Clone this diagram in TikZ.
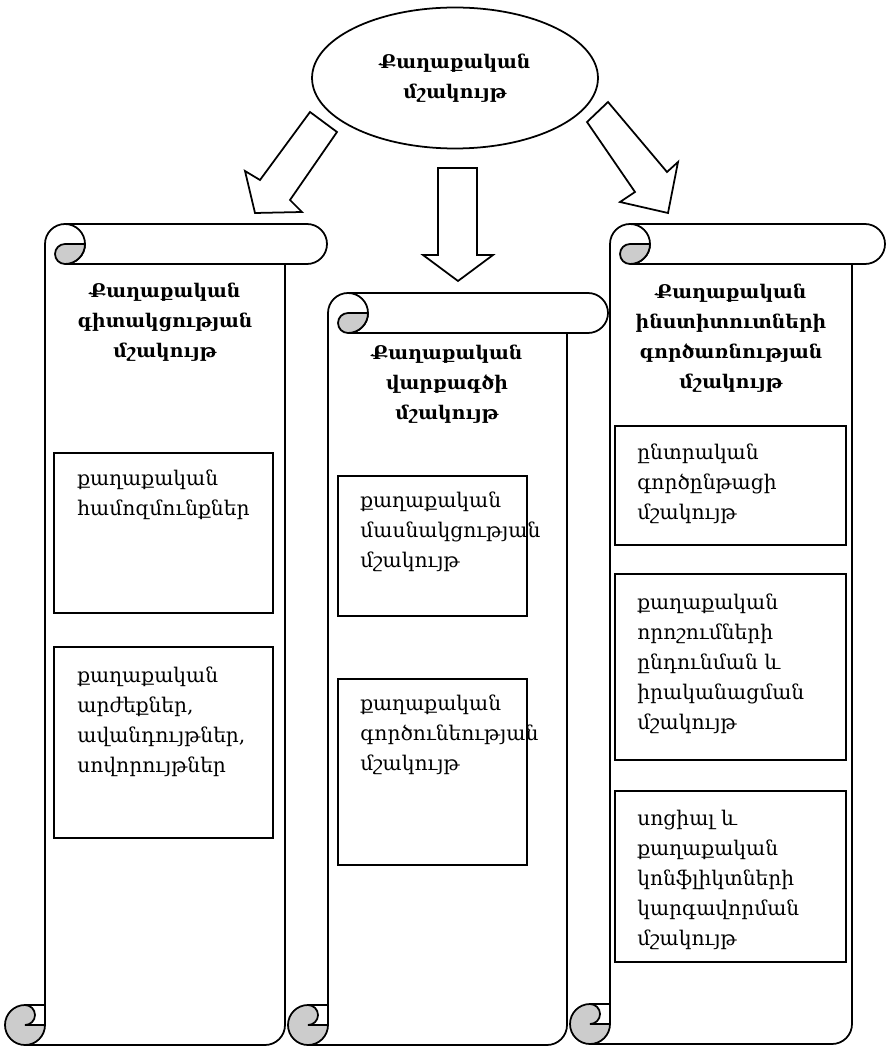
\documentclass[tikz,border=0pt]{standalone}
\usepackage{fontspec}
\setmainfont{DejaVu Serif}
\usetikzlibrary{shapes.geometric}

\definecolor{curlgray}{RGB}{204,204,204}

\newcommand{\scrollsheet}[5]{%
\draw[line width=1pt] (#1,{#3+20}) arc[start angle=180,end angle=270,radius=20] -- ({#5-20},#3) arc[start angle=270,end angle=450,radius=20] -- ({#1+20},{#3+40}) arc[start angle=90,end angle=-90,radius=20];
\draw[line width=1pt,fill=curlgray] ({#1+20},{#3+20}) -- ({#1+40},{#3+20}) arc[start angle=0,end angle=90,radius=20] arc[start angle=90,end angle=270,radius=10] -- cycle;
\draw[line width=1pt] (#1,{#3+20}) -- (#1,{#4-20});
\draw[line width=1pt] (#2,{#3+40}) -- (#2,{#4-20}) arc[start angle=0,end angle=90,radius=20] -- ({#1-20},#4);
\draw[line width=1pt,fill=curlgray] ({#1-20},{#4-40}) arc[start angle=-90,end angle=-360,radius=20] -- ({#1-20},{#4-20}) arc[start angle=90,end angle=-90,radius=10] -- cycle;
\draw[line width=1pt] ({#1-20},{#4-40}) -- (#1,{#4-40});
}

\begin{document}
\begin{tikzpicture}[x=0.02cm,y=-0.02cm,
  txt/.style={font=\fontsize{11.5}{17}\selectfont},
  head/.style={font=\fontsize{10.7}{17}\selectfont\bfseries,align=center,inner sep=0pt},
  celltext/.style={txt,align=left,anchor=north west,inner sep=0pt},
  cell/.style={line width=0.9pt}]
\useasboundingbox (0,0) rectangle (892,1047);

\node[draw,line width=1pt,ellipse,minimum width=5.72cm,minimum height=2.82cm,head] (top) at (455,78) {Քաղաքական\\մշակույթ};

\draw[line width=1pt,line join=miter] (310,112) -- (260,180) -- (245,171) -- (255,213) -- (302,212) -- (290,200) -- (337,132) -- cycle;
\draw[line width=1pt,line join=miter] (438,168) -- (438,255) -- (423,255) -- (458,281) -- (493,255) -- (477,255) -- (477,168) -- cycle;
\draw[line width=1pt,line join=miter] (587,122) -- (635,192) -- (620,202) -- (668,213) -- (678,162) -- (667,172) -- (608,102) -- cycle;

\scrollsheet{45}{285}{224}{1045}{327}
\scrollsheet{328}{567}{293}{1045}{608}
\scrollsheet{610}{852}{224}{1044}{885}

\node[head] (lefthead) at (165,322) {Քաղաքական\\գիտակցության\\մշակույթ};
\node[head] (midhead) at (447,384) {Քաղաքական\\վարքագծի\\մշակույթ};
\node[head] (righthead) at (731,338) {Քաղաքական\\ինստիտուտների\\գործառնության\\մշակույթ};

\draw[cell] (54,453) rectangle (273,613);
\node[celltext] (beliefs) at (77,470) {քաղաքական\\համոզմունքներ};
\draw[cell] (54,647) rectangle (273,838);
\node[celltext] (values) at (77,667) {քաղաքական\\արժեքներ,\\ավանդույթներ,\\սովորույթներ};

\draw[cell] (338,476) rectangle (527,616);
\node[celltext] (particip) at (360,492) {քաղաքական\\մասնակցության\\մշակույթ};
\draw[cell] (338,679) rectangle (527,865);
\node[celltext] (activity) at (360,695) {քաղաքական\\գործունեության\\մշակույթ};

\draw[cell] (615,426) rectangle (846,545);
\node[celltext] (elect) at (637,444) {ընտրական\\գործընթացի\\մշակույթ};
\draw[cell] (615,574) rectangle (846,760);
\node[celltext] (decis) at (637,594) {քաղաքական\\որոշումների\\ընդունման և\\իրականացման\\մշակույթ};
\draw[cell] (615,791) rectangle (846,962);
\node[celltext] (confl) at (637,810) {սոցիալ և\\քաղաքական\\կոնֆլիկտների\\կարգավորման\\մշակույթ};
\end{tikzpicture}
\end{document}
